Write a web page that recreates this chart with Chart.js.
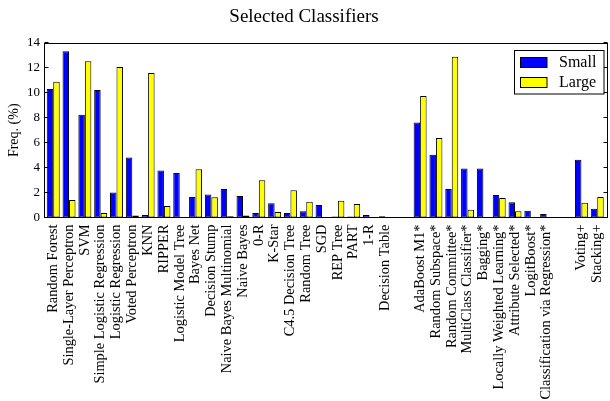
<!DOCTYPE html>
<html><head><meta charset="utf-8">
<script src="https://cdn.jsdelivr.net/npm/chart.js@4.4.0/dist/chart.umd.min.js"></script>
<style>html,body{margin:0;padding:0;background:#fff;overflow:hidden;}#wrap{width:610px;height:401px;position:relative;}</style>
</head><body><div id="wrap"><canvas id="c" width="610" height="401" style="width:610px;height:401px;"></canvas></div>
<script>
const categories = [
  'Random Forest','Single-Layer Perceptron','SVM','Simple Logistic Regression','Logistic Regression',
  'Voted Perceptron','KNN','RIPPER','Logistic Model Tree','Bayes Net','Decision Stump',
  'Naive Bayes Multinomial','Naive Bayes','0-R','K-Star','C4.5 Decision Tree','Random Tree','SGD',
  'REP Tree','PART','1-R','Decision Table',
  'AdaBoost M1*','Random Subspace*','Random Committee*','MultiClass Classifier*','Bagging*',
  'Locally Weighted Learning*','Attribute Selected*','LogitBoost*','Classification via Regression*',
  'Voting+','Stacking+'
];
const groupSizes = [22, 9, 2];
const small = [10.31,13.34,8.25,10.23,2.0,4.81,0.2,3.77,3.58,1.65,1.84,2.29,1.73,0.36,1.14,0.36,0.5,1.0,0.08,0.08,0.2,0.1,
  7.63,5.03,2.29,3.93,3.93,1.81,1.22,0.55,0.28,
  4.63,0.71];
const large = [10.9,1.41,12.54,0.36,12.08,0.17,11.6,0.93,0.0,3.87,1.62,0.1,0.17,2.99,0.44,2.19,1.27,0.0,1.35,1.09,0.0,0.0,
  9.75,6.37,12.89,0.63,0.0,1.57,0.5,0.0,0.0,
  1.19,1.65];
const yTicks = [0,2,4,6,8,10,12,14];
const seriesNames = ['Small','Large'];
const seriesColors = ['#0000ff','#ffff00'];

// layout of category slots (gap between groups)
const GAP = 2.2;
const positions = [];
(function(){ let p = 0; groupSizes.forEach(n => { for (let i = 0; i < n; i++) { positions.push(p); p += 1; } p += GAP - 1; }); })();

const FONT = "'Liberation Serif', 'DejaVu Serif', serif";

const decor = {
  id: 'decor',
  afterDraw(chart) {
    const {ctx, chartArea: a, scales: {y}} = chart;
    ctx.save();
    ctx.strokeStyle = '#000';
    ctx.lineWidth = 1;
    const L = Math.round(a.left) - 0.5, R = Math.round(a.right) - 0.5, T = Math.round(a.top) + 0.5, B = Math.round(a.bottom) - 0.5;
    ctx.strokeRect(L, T, R - L, B - T);
    ctx.beginPath();
    yTicks.forEach(v => {
      const py = Math.round(y.getPixelForValue(v)) - 0.5;
      ctx.moveTo(L, py); ctx.lineTo(L + 4, py);
      ctx.moveTo(R, py); ctx.lineTo(R - 4, py);
    });
    ctx.stroke();
    // legend
    const bx = 514.5, by = 50.5, bw = 89.5, bh = 43.5;
    ctx.fillStyle = '#fff';
    ctx.fillRect(bx, by, bw, bh);
    ctx.strokeStyle = '#000';
    ctx.strokeRect(bx, by, bw, bh);
    ctx.font = '16px ' + FONT;
    ctx.textBaseline = 'middle';
    ctx.textAlign = 'left';
    chart.data.datasets.forEach((ds, i) => {
      const ry = 57 + i * 20;
      ctx.fillStyle = ds.backgroundColor;
      ctx.fillRect(520.5, ry + 0.5, 26.5, 10);
      ctx.strokeRect(520.5, ry + 0.5, 26.5, 10);
      ctx.fillStyle = '#000';
      ctx.fillText(ds.label, 559, ry + 6);
    });
    ctx.restore();
  }
};

new Chart(document.getElementById('c'), {
  type: 'bar',
  data: {
    datasets: [small, large].map((arr, k) => ({
      label: seriesNames[k],
      data: arr.map((v, i) => ({x: positions[i], y: v})),
      backgroundColor: seriesColors[k],
      borderColor: '#000',
      borderWidth: 1,
      borderSkipped: false,
      categoryPercentage: 0.82,
      barPercentage: 1.0
    }))
  },
  options: {
    responsive: false,
    animation: false,
    devicePixelRatio: 1,
    layout: {padding: {left: 0, right: 2, top: 0, bottom: 0}},
    plugins: {
      legend: {display: false},
      tooltip: {enabled: false},
      title: {display: true, text: 'Selected Classifiers', color: '#000',
        font: {family: FONT, size: 19, weight: 'normal'}, padding: {top: 6, bottom: 14.2}}
    },
    scales: {
      x: {
        type: 'linear', offset: false, min: -0.52, max: 35.08,
        grid: {display: false, drawTicks: false}, border: {display: false},
        afterBuildTicks: s => { s.ticks = positions.map(v => ({value: v})); },
        afterFit: s => { s.height = 401 - 217.5; s.paddingLeft = 0; s.paddingRight = 0; },
        ticks: {autoSkip: false, minRotation: 90, maxRotation: 90, padding: 7, color: '#000',
          font: {family: FONT, size: 14.4},
          callback: (v, i) => categories[i]}
      },
      y: {
        min: 0, max: 14,
        grid: {display: false, drawTicks: false}, border: {display: false},
        afterBuildTicks: s => { s.ticks = yTicks.map(v => ({value: v})); },
        afterFit: s => { s.width = 45; s.paddingTop = 0; s.paddingBottom = 0; },
        ticks: {padding: 5, color: '#000', font: {family: FONT, size: 13}, callback: v => String(v)},
        title: {display: true, text: 'Freq. (%)', color: '#000', font: {family: FONT, size: 14}, padding: {top: 6, bottom: 0}}
      }
    }
  },
  plugins: [decor]
});
</script></body></html>
